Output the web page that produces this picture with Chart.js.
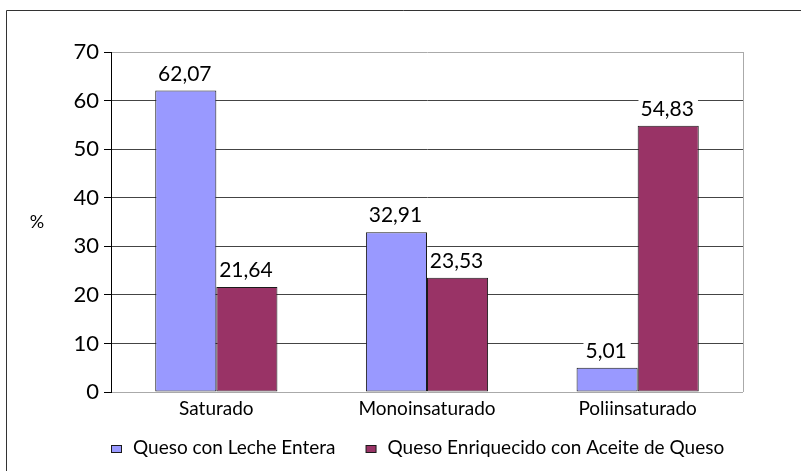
<!DOCTYPE html>
<html>
<head>
<meta charset="utf-8">
<script src="https://cdn.jsdelivr.net/npm/chart.js@4.4.0/dist/chart.umd.min.js"></script>
<style>
  html, body { margin: 0; padding: 0; background: #fff; }
  #wrap { width: 801px; height: 471px; position: relative; }
</style>
</head>
<body>
<div id="wrap"><canvas id="c" width="801" height="471"></canvas></div>
<script>
const categories = ['Saturado', 'Monoinsaturado', 'Poliinsaturado'];
const seriesNames = ['Queso con Leche Entera', 'Queso Enriquecido con Aceite de Queso'];
const lecheEntera = [62.07, 32.91, 5.01];
const aceiteQueso = [21.64, 23.53, 54.83];
const yTicks = [0, 10, 20, 30, 40, 50, 60, 70];
const yTitle = '%';

const FONT = 'Lato, "Open Sans", sans-serif';

const fmt = v => v.toFixed(2).replace('.', ',');

const decor = {
  id: 'decor',
  beforeDraw(chart) {
    const ctx = chart.ctx;
    ctx.save();
    ctx.fillStyle = '#fff';
    ctx.fillRect(0, 0, chart.width, chart.height);
    ctx.strokeStyle = '#333';
    ctx.lineWidth = 1;
    ctx.beginPath();
    ctx.moveTo(6.5, chart.height);
    ctx.lineTo(6.5, 10.5);
    ctx.lineTo(chart.width, 10.5);
    ctx.stroke();
    ctx.restore();
  },
  afterDraw(chart) {
    const ctx = chart.ctx;
    const a = chart.chartArea;
    ctx.save();
    // right plot border
    ctx.strokeStyle = '#aaaaaa';
    ctx.lineWidth = 1;
    ctx.beginPath();
    ctx.moveTo(Math.round(a.right) + 0.5, a.top);
    ctx.lineTo(Math.round(a.right) + 0.5, a.bottom);
    ctx.stroke();
    // y-axis title, horizontal
    ctx.fillStyle = '#000';
    ctx.font = '18px ' + FONT;
    ctx.textAlign = 'center';
    ctx.textBaseline = 'middle';
    ctx.fillText(yTitle, 37, 222);
    // data labels
    ctx.font = '21px ' + FONT;
    ctx.textBaseline = 'alphabetic';
    chart.data.datasets.forEach((ds, di) => {
      const meta = chart.getDatasetMeta(di);
      meta.data.forEach((bar, i) => {
        const txt = fmt(ds.data[i]);
        const w = ctx.measureText(txt).width;
        const by = bar.y - 10;
        ctx.fillStyle = '#fff';
        ctx.fillRect(bar.x - w / 2 - 3, by - 17, w + 6, 22);
        ctx.fillStyle = '#000';
        ctx.fillText(txt, bar.x - 1, by);
      });
    });
    // legend
    ctx.font = '19px ' + FONT;
    ctx.textAlign = 'left';
    ctx.textBaseline = 'middle';
    let x = 111;
    const ly = 448;
    chart.data.datasets.forEach(ds => {
      ctx.fillStyle = ds.backgroundColor;
      ctx.fillRect(x + 0.5, ly - 2.5, 10, 7);
      ctx.strokeStyle = '#1a1a1a';
      ctx.lineWidth = 1;
      ctx.strokeRect(x + 0.5, ly - 2.5, 10, 7);
      x += 22;
      ctx.fillStyle = '#000';
      ctx.fillText(ds.label, x, ly);
      x += ctx.measureText(ds.label).width + 30;
    });
    ctx.restore();
  }
};

new Chart(document.getElementById('c'), {
  type: 'bar',
  data: {
    labels: categories,
    datasets: [
      { label: seriesNames[0], data: lecheEntera, backgroundColor: '#9999FF', borderColor: '#1a1a1a', borderWidth: 1, borderSkipped: false },
      { label: seriesNames[1], data: aceiteQueso, backgroundColor: '#993366', borderColor: '#1a1a1a', borderWidth: 1, borderSkipped: false }
    ]
  },
  options: {
    responsive: false,
    animation: false,
    devicePixelRatio: 1,
    categoryPercentage: 0.58,
    barPercentage: 1,
    layout: { padding: { left: 6, right: 58, top: 52, bottom: 47 } },
    plugins: {
      tooltip: { enabled: false },
      legend: { display: false }
    },
    scales: {
      x: {
        grid: { display: false, drawTicks: false },
        border: { display: false },
        ticks: { font: { family: FONT, size: 19 }, color: '#000', padding: 5 },
        afterFit(s) { s.height = 32; }
      },
      y: {
        min: 0, max: 70,
        afterBuildTicks(s) { s.ticks = yTicks.map(v => ({ value: v })); },
        grid: {
          color: ctx => (ctx.tick && (ctx.tick.value === 70 || ctx.tick.value === 0)) ? '#aaaaaa' : '#444444',
          tickColor: '#000',
          tickLength: 7,
          lineWidth: 1
        },
        border: { display: true, color: '#000', width: 1 },
        ticks: { font: { family: FONT, size: 22 }, color: '#000', padding: 5 },
        afterFit(s) { s.width = 105; }
      }
    }
  },
  plugins: [decor]
});
</script>
</body>
</html>
